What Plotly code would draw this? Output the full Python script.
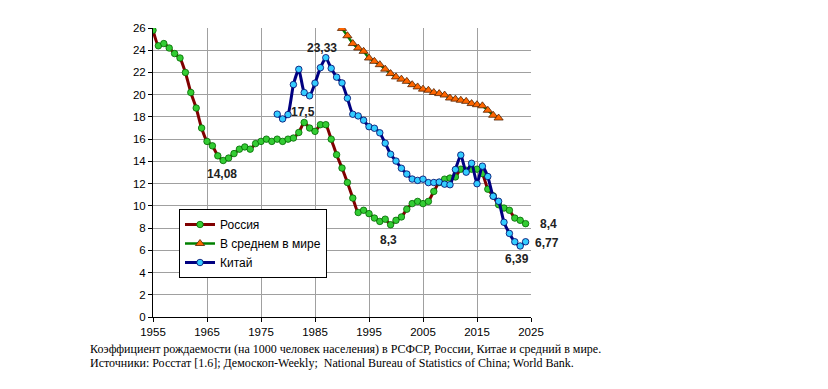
import plotly.graph_objects as go

russia_years = list(range(1955, 2025))
russia_vals = [25.8, 24.4, 24.6, 24.2, 23.7, 23.3, 22.0, 20.2, 18.8, 17.0,
               15.8, 15.4, 14.5, 14.08, 14.3, 14.7, 15.1, 15.3, 15.1, 15.6,
               15.8, 16.0, 15.8, 16.0, 15.8, 16.0, 16.1, 16.6, 17.5, 17.0,
               16.7, 17.3, 17.3, 16.0, 14.6, 13.4, 12.1, 10.7, 9.4, 9.6,
               9.3, 8.9, 8.6, 8.8, 8.3, 8.7, 9.0, 9.7, 10.2, 10.4,
               10.2, 10.4, 11.3, 12.1, 12.4, 12.5, 12.6, 13.3, 13.2, 13.3,
               13.3, 12.9, 11.5, 10.9, 10.1, 9.8, 9.6, 8.9, 8.7, 8.4]

world_years = list(range(1989, 2020))
world_vals = [26.6, 25.96, 25.3, 24.6, 24.2, 23.9, 23.3, 23.0, 22.7, 22.3,
              21.9, 21.6, 21.4, 21.2, 20.9, 20.7, 20.5, 20.4, 20.2, 20.1,
              19.97, 19.7, 19.6, 19.5, 19.4, 19.2, 19.1, 19.0, 18.6, 18.15, 17.9]

china_years = list(range(1978, 2025))
china_vals = [18.25, 17.82, 18.21, 20.91, 22.28, 20.19, 19.90, 21.04, 22.43, 23.33,
              22.37, 21.58, 21.06, 19.68, 18.24, 18.09, 17.70, 17.12, 16.98, 16.57,
              15.64, 14.64, 14.03, 13.38, 12.86, 12.41, 12.29, 12.40, 12.09, 12.10,
              12.14, 11.95, 11.90, 13.27, 14.57, 13.03, 13.83, 11.99, 13.57, 12.64,
              10.86, 10.41, 8.52, 7.52, 6.77, 6.39, 6.77]

x_ticks = list(range(1955, 2026, 10))
y_ticks = list(range(0, 27, 2))

caption_lines = [
    "Коэффициент рождаемости (на 1000 человек населения) в РСФСР, России, Китае и средний в мире.",
    "Источники: Росстат [1.6]; Демоскоп-Weekly;  National Bureau of Statistics of China; World Bank.",
]

FONT = "Liberation Sans, Arial, sans-serif"

fig = go.Figure()
fig.add_trace(go.Scatter(
    x=russia_years, y=russia_vals, name="Россия", mode="lines+markers",
    line=dict(color="#800000", width=3, shape="spline", smoothing=0.5),
    marker=dict(symbol="circle", size=6.5, color="#33CC33",
                line=dict(color="#006600", width=0.8)),
))
fig.add_trace(go.Scatter(
    x=world_years, y=world_vals, name="В среднем в мире", mode="lines+markers",
    line=dict(color="#008000", width=2.5, shape="spline", smoothing=0.5),
    marker=dict(symbol="triangle-up", size=8, color="#FF6600",
                line=dict(color="#552200", width=0.8)),
))
fig.add_trace(go.Scatter(
    x=china_years, y=china_vals, name="Китай", mode="lines+markers",
    line=dict(color="#000080", width=3, shape="spline", smoothing=0.5),
    marker=dict(symbol="circle", size=6.5, color="#33CCFF",
                line=dict(color="#000066", width=0.8)),
))

# value labels anchored to data points
labels = [
    (1987, 23.33, "23,33", -4, 10),
    (1983, 17.5, "17,5", -1, 10),
    (1968, 14.08, "14,08", -1, -13),
    (1999, 8.3, "8,3", -2, -15),
    (2024, 8.4, "8,4", 23, 0),
    (2024, 6.77, "6,77", 21, -1),
    (2023, 6.39, "6,39", -3, -13),
]
for xv, yv, txt, dx, dy in labels:
    fig.add_annotation(x=xv, y=yv, text="<b>" + txt + "</b>", showarrow=False,
                       xshift=dx, yshift=dy, font=dict(family=FONT, size=12, color="#222222"))

# page has an 8px body margin; positions below are in window pixels
OFF = 8
W, H = 828, 389
l, t, pw, ph = 153 - OFF, 28 - OFF, 378, 289
r = W - l - pw
b = H - t - ph

for i, line in enumerate(caption_lines):
    px, py = 88 - OFF, 349 + 14 * i - OFF
    fig.add_annotation(x=(px - l) / pw, y=(t + ph - py) / ph, xref="paper", yref="paper", text=line,
                       showarrow=False, xanchor="left", yanchor="middle",
                       font=dict(family="Liberation Serif, Times New Roman, serif", size=12, color="#000000"))

leg_x, leg_y = 179 - OFF, 209 - OFF
fig.update_layout(
    width=W, height=H,
    margin=dict(l=l, r=r, t=t, b=b),
    paper_bgcolor="white", plot_bgcolor="white",
    showlegend=True,
    legend=dict(x=(leg_x - l) / pw, y=(t + ph - leg_y) / ph, xanchor="left", yanchor="top",
                bgcolor="white", bordercolor="black", borderwidth=1,
                font=dict(family=FONT, size=12, color="black"),
                itemwidth=30, tracegroupgap=0),
    xaxis=dict(range=[1955, 2025], tickvals=x_ticks, ticktext=[str(v) for v in x_ticks],
               showgrid=True, gridcolor="#A0A0A0", gridwidth=1,
               showline=True, linecolor="black", linewidth=1,
               ticks="outside", ticklen=4, tickcolor="black",
               tickfont=dict(family=FONT, size=11.5, color="black"), zeroline=False),
    yaxis=dict(range=[0, 26], tickvals=y_ticks,
               showgrid=True, gridcolor="#A0A0A0", gridwidth=1,
               showline=True, linecolor="black", linewidth=1,
               ticks="outside", ticklen=4, tickcolor="black",
               tickfont=dict(family=FONT, size=11.5, color="black"), zeroline=False),
)

fig.write_html("out.html")
